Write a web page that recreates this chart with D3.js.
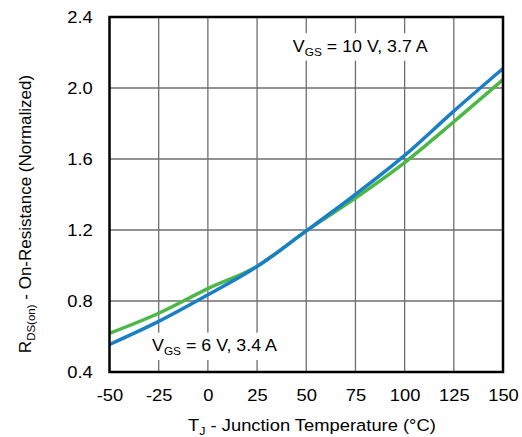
<!DOCTYPE html>
<html>
<head>
<meta charset="utf-8">
<script src="https://cdn.jsdelivr.net/npm/d3@7"></script>
<style>
    body { margin: 0; background: #fff; }
    text { font-family: "Liberation Sans", Arial, sans-serif; fill: #000; }
</style>
</head>
<body>
<div id="chart"></div>
<script>
// junction temperature (°C)
const temps = [-50, -25, 0, 25, 50, 75, 100, 125, 150];
// normalized RDS(on)
const rds10V = [0.555, 0.685, 0.835, 0.995, 1.195, 1.40, 1.62, 1.87, 2.11];
const rds6V = [0.618, 0.731, 0.870, 0.995, 1.195, 1.38, 1.58, 1.81, 2.047];

const xTicks = [-50, -25, 0, 25, 50, 75, 100, 125, 150];
const yTicks = [0.4, 0.8, 1.2, 1.6, 2.0, 2.4];

const seriesNames = ["10V", "6V"];
const colors = {"10V": "#1b7fc6", "6V": "#4cb848"};

let stretch = "scale(1.08,1)";

let margin = {top: 17, right: 19, bottom: 65, left: 109.5};
let width = 522 - margin.left - margin.right;
let height = 437 - margin.top - margin.bottom;

let svg = d3.select("#chart").append("svg")
    .attr("width", 522)
    .attr("height", 437);

let g = svg.append("g")
    .attr("transform", "translate(" + margin.left + "," + margin.top + ")");

let x = d3.scaleLinear().domain([-50, 150]).range([0, width]);
let y = d3.scaleLinear().domain([0.4, 2.4]).range([height, 0]);

// grid
g.selectAll(".vgrid")
    .data(xTicks.slice(1, -1))
    .enter().append("line")
    .attr("x1", d => x(d)).attr("x2", d => x(d))
    .attr("y1", 0).attr("y2", height)
    .attr("stroke", "#6e6e6e").attr("stroke-width", 1.3);

g.selectAll(".hgrid")
    .data(yTicks.slice(1, -1))
    .enter().append("line")
    .attr("x1", 0).attr("x2", width)
    .attr("y1", d => y(d)).attr("y2", d => y(d))
    .attr("stroke", "#6e6e6e").attr("stroke-width", 1.3);

// axes (labels only)
let xAxis = g.append("g")
    .attr("transform", "translate(0," + height + ")")
    .call(d3.axisBottom(x).tickValues(xTicks).tickSize(0).tickPadding(17).tickFormat(d => String(d)));
let yAxis = g.append("g")
    .call(d3.axisLeft(y).tickValues(yTicks).tickSize(0).tickPadding(15.5).tickFormat(d3.format(".1f")));
[xAxis, yAxis].forEach(a => {
    a.select(".domain").remove();
    a.selectAll("text").style("font-size", "17px").attr("fill", "#000")
        .attr("transform", stretch)
        .style("font-family", '"Liberation Sans", Arial, sans-serif');
});

// legend labels with white boxes
function label(parts, tx, ty) {
    let grp = g.append("g")
        .attr("transform", "translate(" + x(tx) + "," + y(ty) + ") " + stretch);
    let t = grp.append("text")
        .style("font-size", "16.5px");
    parts.forEach(p => {
        let s = t.append("tspan").text(p.t);
        if (p.sub) s.style("font-size", "11px").attr("dy", 4);
        else if (p.back) s.attr("dy", -4);
    });
    let bb = t.node().getBBox();
    grp.insert("rect", "text")
        .attr("x", bb.x - 5).attr("y", bb.y - 3)
        .attr("width", bb.width + 10).attr("height", bb.height + 6)
        .attr("fill", "#fff");
}

// curves
let line = d3.line()
    .x((d, i) => x(temps[i]))
    .y(d => y(d))
    .curve(d3.curveMonotoneX);

label([{t: "V"}, {t: "GS", sub: true}, {t: " = 10 V, 3.7 A", back: true}], 43.2, 2.205);
label([{t: "V"}, {t: "GS", sub: true}, {t: " = 6 V, 3.4 A", back: true}], -28.4, 0.518);

g.selectAll(".curve")
    .data([rds6V, rds10V])
    .enter().append("path")
    .attr("d", line)
    .attr("fill", "none")
    .attr("stroke", (d, i) => colors[seriesNames[1 - i]])
    .attr("stroke-width", 3.5);

// frame
g.append("rect")
    .attr("width", width).attr("height", height)
    .attr("fill", "none").attr("stroke", "#000").attr("stroke-width", 2.5);

// axis titles
let xt = svg.append("text")
    .attr("transform", "translate(188,431) " + stretch)
    .style("font-size", "17px");
xt.append("tspan").text("T");
xt.append("tspan").text("J").style("font-size", "11.5px").attr("dy", 4);
xt.append("tspan").text(" - Junction Temperature (°C)").attr("dy", -4);

let yt = svg.append("text")
    .attr("transform", "translate(31," + 214 + ") rotate(-90)")
    .attr("text-anchor", "middle").style("font-size", "17px");
yt.append("tspan").text("R");
yt.append("tspan").text("DS(on)").style("font-size", "11.5px").attr("dy", 4);
yt.append("tspan").text(" - On-Resistance (Normalized)").attr("dy", -4);
</script>
</body>
</html>
